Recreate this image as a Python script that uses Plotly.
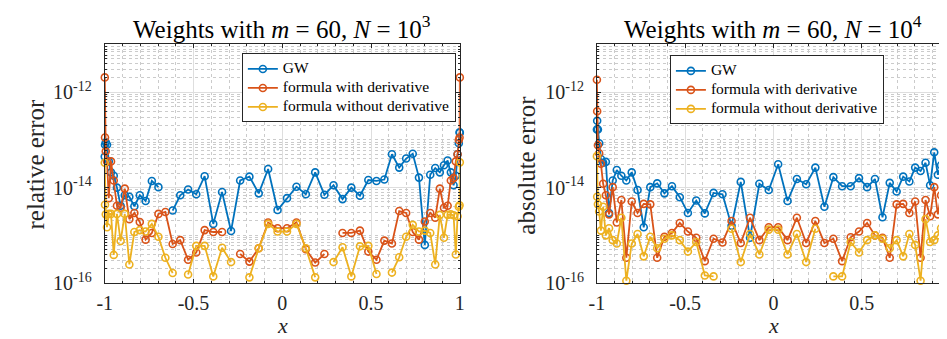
import numpy as np
import plotly.graph_objects as go

# Chebyshev-Lobatto nodes (60 points), read positions on [-1, 1]
x_nodes = [-1.0, -0.99858, -0.99434, -0.98727, -0.97740, -0.96477, -0.94940, -0.93134, -0.91064, -0.88735,
           -0.86155, -0.83331, -0.80272, -0.76985, -0.73481, -0.69768, -0.65858, -0.61761, -0.57489, -0.53053,
           -0.48466, -0.43740, -0.38889, -0.33926, -0.28866, -0.23730, -0.18526, -0.13272, -0.07980, -0.02662,
           0.02662, 0.07980, 0.13272, 0.18526, 0.23730, 0.28866, 0.33926, 0.38889, 0.43740, 0.48466,
           0.53053, 0.57489, 0.61761, 0.65858, 0.69768, 0.73481, 0.76985, 0.80272, 0.83331, 0.86155,
           0.88735, 0.91064, 0.93134, 0.94940, 0.96477, 0.97740, 0.98727, 0.99434, 0.99858, 1.0]

nan = float("nan")

# log10 of the error -- left panel (N = 10^3, relative error)
gw_n3 = [-13.35, -13.1, -13.05, -13.1, -13.45, -13.68, -13.75, -14.0, -14.38, -14.16,
         -14.19, -14.39, -14.16, -14.28, -13.86, -13.99, nan, -14.48, -14.16, -14.04,
         -14.14, -13.76, -14.76, -14.09, -14.91, -13.85, -13.77, -14.12, -13.61, -14.47,
         -14.22, -13.98, -14.14, -13.68, -14.15, -13.95, -14.24, -14.0, -14.17, -13.84,
         -13.86, -13.83, -13.30, -13.58, -13.39, -13.29, -13.79, -15.2, -13.73, -13.59,
         -13.68, -13.53, -13.43, -13.68, -13.95, -13.75, -13.3, -13.07, -12.84, -12.85]
der_n3 = [-11.69, -12.95, -13.24, -13.45, -14.22, -13.45, -13.85, -14.38, -14.42, -14.02,
          -14.66, -14.53, -14.72, -15.09, -14.95, -14.55, -14.51, -15.18, -15.10, -15.51,
          -15.36, -14.89, -14.93, -14.93, nan, -15.39, -15.55, -15.27, -14.73, -14.85,
          -14.85, -14.73, -15.29, -15.57, -15.39, nan, -14.95, -14.95, -14.9, -15.34,
          -15.51, -15.11, -15.17, -14.49, -14.53, -14.93, -15.09, -14.71, -14.53, -14.63,
          -14.02, -14.42, -14.38, -13.85, -13.8, -13.45, -13.3, -13.0, -12.95, -11.69]
noder_n3 = [-13.48, -14.36, -14.56, -14.83, -14.55, -14.55, -15.41, -14.55, -15.12, -14.55,
            -15.61, -14.93, -14.89, -14.92, -14.76, -15.03, -15.47, -15.79, nan, -15.82,
            -15.22, -15.22, -15.86, -15.26, -15.56, nan, -15.88, -15.27, -14.76, -14.92,
            -14.92, -14.76, -15.27, -15.88, nan, -15.56, -15.25, -15.86, -15.23, -15.22,
            -15.81, nan, -15.78, -15.46, -15.03, -14.78, -14.92, -14.9, -14.95, -15.61,
            -14.57, -15.05, -14.57, -14.56, -14.58, -15.4, -14.6, -14.4, -14.37, -13.47]

# right panel (N = 10^4, absolute error)
gw_n4 = [-12.78, -12.6, -12.78, -13.07, -13.4, -13.48, -13.46, -14.53, -13.85, -13.63,
         -13.75, -13.85, -13.68, -14.05, -14.83, -13.99, -13.91, -14.12, -13.97, -14.2,
         -14.53, -14.27, -14.54, -14.11, -14.14, -14.8, -13.88, -15.05, -13.92, -14.05,
         -13.51, -14.28, -13.82, -13.93, -13.58, -14.4, -13.78, -13.97, -13.97, -13.8,
         -13.99, -13.82, -14.62, -13.9, -14.08, -13.77, -13.87, -13.58, -13.65, -13.48,
         -13.95, -13.26, -13.73, -13.53, -13.4, -13.0, -13.1, -12.8, -12.62, -12.75]
der_n4 = [-11.74, -12.4, -13.11, -13.28, -13.5, -13.92, -14.16, -14.56, -13.99, -14.73,
          -14.26, -15.47, -14.29, -14.53, -14.34, -14.35, -15.47, -15.03, -14.95, -14.74,
          -14.92, -15.05, -15.54, -15.07, -15.15, -14.7, -15.16, -14.63, -15.1, -14.83,
          -14.83, -15.1, -14.63, -15.16, -14.7, -15.16, -15.07, -15.54, -15.04, -14.92,
          -14.74, -15.0, -15.05, -15.47, -14.35, -14.34, -14.53, -14.29, -15.47, -14.26,
          -14.6, -13.99, -14.56, -14.16, -13.92, -13.5, -13.28, -13.11, -12.4, -11.74]
noder_n4 = [-13.34, -14.19, -14.35, -14.5, -14.9, -14.4, -15.0, -14.85, -15.1, -15.17,
            -14.63, -15.95, -15.17, -14.97, -15.44, -15.03, -15.27, -15.07, -15.0, -15.1,
            -15.34, -15.14, -15.84, -15.86, nan, -14.86, -15.56, -14.97, -15.4, -14.88,
            -14.88, -15.4, -14.97, -15.56, -14.86, nan, -15.86, -15.86, -15.14, -15.36,
            -15.1, -15.0, -15.07, -15.27, -15.1, -15.44, -14.97, -15.2, -15.95, -14.66,
            -15.14, -15.1, -15.0, -14.85, -15.0, -14.4, -14.9, -14.35, -14.19, -13.34]

series_names = ["GW", "formula with derivative", "formula without derivative"]
colors = ["#0072BD", "#D95319", "#EDB120"]
titles = ["Weights with <i>m</i> = 60, <i>N</i> = 10<sup>3</sup>",
          "Weights with <i>m</i> = 60, <i>N</i> = 10<sup>4</sup>"]
ylabels = ["relative error", "absolute error"]
x_tickvals = [-1, -0.5, 0, 0.5, 1]
x_ticktext = ["-1", "-0.5", "0", "0.5", "1"]
y_tickvals = [1e-16, 1e-14, 1e-12]
y_ticktext = ["10<sup>-16</sup>", "10<sup>-14</sup>", "10<sup>-12</sup>"]

FONT = "Liberation Serif"
W, H = 947, 339


def px_x(p):  # page pixel -> paper fraction
    return p / W


def px_y(p):
    return 1 - p / H


fig = go.Figure()
panels = [(gw_n3, der_n3, noder_n3), (gw_n4, der_n4, noder_n4)]
for p, data in enumerate(panels):
    xa = "x" if p == 0 else "x2"
    ya = "y" if p == 0 else "y2"
    leg = "legend" if p == 0 else "legend2"
    for s, vals in enumerate(data):
        yv = np.power(10.0, np.array(vals, dtype=float))
        fig.add_trace(go.Scatter(
            x=x_nodes, y=yv, mode="lines+markers",
            name='<span style="font-size:15.5px">' + series_names[s] + "</span>",
            xaxis=xa, yaxis=ya, legend=leg, cliponaxis=False,
            line=dict(color=colors[s], width=1.8),
            marker=dict(symbol="circle-open", size=7, color=colors[s], line=dict(width=1.6, color=colors[s])),
        ))

ydom = [px_y(284.3), px_y(37.7)]
xdoms = [[px_x(90), px_x(450)], [px_x(589), 1.0]]

minor_y = [m * 10.0 ** d for d in range(-16, -11) for m in range(1, 10) if not (m == 1 and d % 2 == 0)]

axis_common = dict(showline=True, linecolor="#262626", linewidth=1, mirror="allticks",
                   ticks="inside", ticklen=4, tickcolor="#262626", zeroline=False,
                   gridcolor="#dedede", gridwidth=1)

layout_axes = {}
for p in range(2):
    sfx = "" if p == 0 else "2"
    layout_axes["xaxis" + sfx] = dict(
        axis_common, domain=xdoms[p], range=[-1, 1], anchor="y" + sfx,
        tickmode="array", tickvals=x_tickvals, ticktext=x_ticktext, ticklabelstandoff=2,
        tickfont=dict(family=FONT, size=20, color="#262626"),
        minor=dict(dtick=0.1, tick0=0, showgrid=True, griddash="dot", gridcolor="#cbcbcb",
                   ticks="inside", ticklen=2, tickcolor="#262626"))
    layout_axes["yaxis" + sfx] = dict(
        axis_common, domain=ydom, type="log", range=[-16, -11], anchor="x" + sfx,
        tickmode="array", tickvals=y_tickvals, ticktext=y_ticktext, ticklabelstandoff=8,
        tickfont=dict(family=FONT, size=20, color="#262626"),
        minor=dict(tickmode="array", tickvals=minor_y, showgrid=True, griddash="dot",
                   gridcolor="#cbcbcb", ticks="inside", ticklen=2, tickcolor="#262626"))

annotations = []
centers = [270, 768]
for p in range(2):
    annotations.append(dict(text=titles[p], x=px_x(centers[p]), y=px_y(20), xref="paper", yref="paper",
                            showarrow=False, xanchor="center", yanchor="middle",
                            font=dict(family=FONT, size=25, color="black")))
    annotations.append(dict(text="<i>x</i>", x=px_x(centers[p]), y=px_y(328), xref="paper", yref="paper",
                            showarrow=False, xanchor="center", yanchor="middle",
                            font=dict(family=FONT, size=22, color="#262626")))
ylab_x = [20, 518]
for p in range(2):
    annotations.append(dict(text=ylabels[p], x=px_x(ylab_x[p]), y=px_y(162), xref="paper", yref="paper",
                            showarrow=False, xanchor="center", yanchor="middle", textangle=-90,
                            font=dict(family=FONT, size=25, color="#262626")))

legend_common = dict(bgcolor="white", bordercolor="#262626", borderwidth=1,
                     font=dict(family=FONT, size=10, color="black"),
                     xanchor="left", yanchor="top", tracegroupgap=0)

fig.update_layout(
    width=W, height=H, margin=dict(l=0, r=0, t=0, b=0),
    paper_bgcolor="white", plot_bgcolor="white", showlegend=True,
    legend=dict(legend_common, x=px_x(229), y=px_y(47)),
    legend2=dict(legend_common, x=px_x(663), y=px_y(49)),
    annotations=annotations,
    **layout_axes,
)

fig.write_html("out.html")
